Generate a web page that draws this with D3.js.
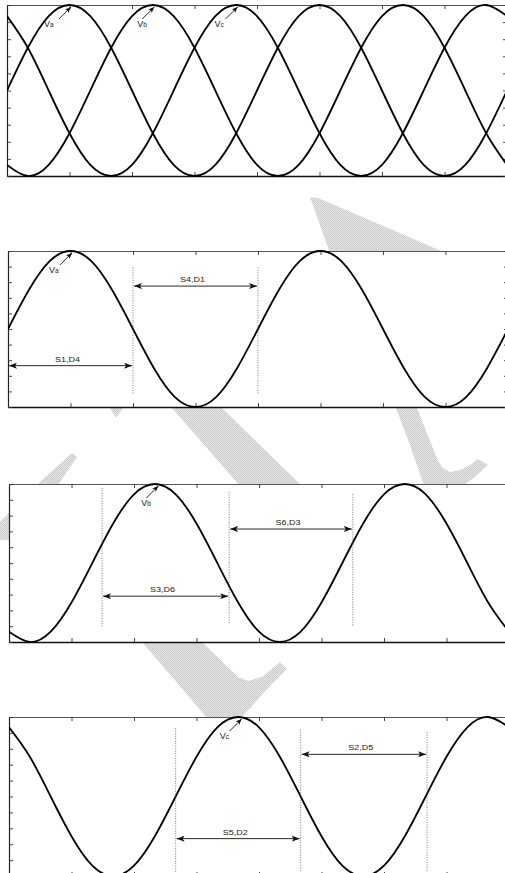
<!DOCTYPE html>
<html>
<head>
<meta charset="utf-8">
<title>Three-phase voltages and switch conduction intervals</title>
<script src="https://d3js.org/d3.v7.min.js"></script>
<style>
  body { margin: 0; background: #fff; }
  svg { display: block; }
</style>
</head>
<body>
<script>
// electrical angle of each sample (degrees)
var angles = [0, 30, 60, 90, 120, 150, 180, 210, 240, 270, 300, 330, 360,
              390, 420, 450, 480, 510, 540, 570, 600, 630, 660, 690, 720];

// per-unit phase voltages
var va = [0, 0.5, 0.87, 1, 0.87, 0.5, 0, -0.5, -0.87, -1, -0.87, -0.5, 0,
          0.5, 0.87, 1, 0.87, 0.5, 0, -0.5, -0.87, -1, -0.87, -0.5, 0];
var vb = [-0.87, -1, -0.87, -0.5, 0, 0.5, 0.87, 1, 0.87, 0.5, 0, -0.5, -0.87,
          -1, -0.87, -0.5, 0, 0.5, 0.87, 1, 0.87, 0.5, 0, -0.5, -0.87];
var vc = [0.87, 0.5, 0, -0.5, -0.87, -1, -0.87, -0.5, 0, 0.5, 0.87, 1, 0.87,
          0.5, 0, -0.5, -0.87, -1, -0.87, -0.5, 0, 0.5, 0.87, 1, 0.87];

// ticks (no labels on the original)
var xTicks = [0, 90, 180, 270, 360, 450, 540, 630, 720];
var yTicks = [-1, -0.8, -0.6, -0.4, -0.2, 0, 0.2, 0.4, 0.6, 0.8, 1];

// switching intervals: [label, start angle, end angle, level]
var spansA = [["S4,D1", 180, 360, 0.55], ["S1,D4", 0, 180, -0.47]];
var spansB = [["S3,D6", 134, 317, -0.42], ["S6,D3", 317, 495, 0.43]];
var spansC = [["S5,D2", 240, 420, -0.53], ["S2,D5", 420, 602, 0.53]];

// dotted guide lines (angle, from level, to level)
var guidesA = [[180, 0.79, -0.83], [360, 0.79, -0.83]];
var guidesB = [[134, 0.95, -0.8], [317, 0.9, -0.77], [495, 0.87, -0.81]];
var guidesC = [[240, 0.86, -0.95], [420, 0.84, -0.95], [602, 0.81, -0.95]];

// peak tags: [phase letter, angle of the peak]
var tagsTop = [["a", 92], ["b", 212], ["c", 332]];

var W = 505, H = 873;

var svg = d3.select("body").append("svg")
    .attr("width", W)
    .attr("height", H);

var defs = svg.append("defs");

// scanned watermark texture
var pat = defs.append("pattern")
    .attr("id", "hatch")
    .attr("width", 2).attr("height", 2)
    .attr("patternUnits", "userSpaceOnUse");
pat.append("rect").attr("width", 2).attr("height", 2).attr("fill", "#e4e4e4");
pat.append("rect").attr("width", 1).attr("height", 1).attr("fill", "#c9c9c9");
pat.append("rect").attr("x", 1).attr("y", 1).attr("width", 1).attr("height", 1).attr("fill", "#d0d0d0");

// arrow heads
defs.append("marker")
    .attr("id", "head")
    .attr("markerUnits", "userSpaceOnUse")
    .attr("viewBox", "-8 -3 9 6")
    .attr("refX", 0).attr("refY", 0)
    .attr("markerWidth", 9).attr("markerHeight", 6)
    .attr("orient", "auto-start-reverse")
    .append("path")
    .attr("d", "M0,0L-8,-3L-6,0L-8,3Z")
    .attr("fill", "#111");

defs.append("marker")
    .attr("id", "tip")
    .attr("markerUnits", "userSpaceOnUse")
    .attr("viewBox", "-6 -2.5 7 5")
    .attr("refX", 0).attr("refY", 0)
    .attr("markerWidth", 7).attr("markerHeight", 5)
    .attr("orient", "auto")
    .append("path")
    .attr("d", "M0,0L-6,-2.5L-4.5,0L-6,2.5Z")
    .attr("fill", "#111");

// watermark shapes (behind the panels)
var blobs = [
    [[310, 197], [318, 198], [446, 253], [330, 253]],
    [[72, 453], [77, 457], [60, 482], [30, 540], [0, 540], [0, 522], [40, 482]],
    [[110, 408], [123, 408], [116, 418]],
    [[172, 408], [222, 408], [302, 486], [240, 486]],
    [[396, 408], [417, 408], [438, 461], [443, 468], [450, 472], [460, 470],
     [470, 465], [478, 459], [488, 465], [476, 476], [463, 486], [424, 486], [410, 445]],
    [[143, 643], [203, 643], [238, 677], [248, 681], [262, 677], [280, 662],
     [287, 669], [270, 686], [240, 719], [208, 719]]
];
svg.append("g").selectAll("path")
    .data(blobs)
    .enter()
    .append("path")
    .attr("d", function(d) { return "M" + d.join("L") + "Z"; })
    .attr("fill", "url(#hatch)");

var panels = [
    {top: 5, bottom: 176, left: 7, right: 507, curves: [va, vb, vc],
     tags: tagsTop, tagDx: [-15, -5, -11], spans: [], guides: []},
    {top: 251, bottom: 407, left: 8, right: 508, curves: [va],
     tags: [["a", 92]], tagDx: [-11], spans: spansA, guides: guidesA},
    {top: 484, bottom: 642, left: 9, right: 509, curves: [vb],
     tags: [["b", 215]], tagDx: [-5], spans: spansB, guides: guidesB},
    {top: 717, bottom: 876, left: 9, right: 509, curves: [vc],
     tags: [["c", 335]], tagDx: [-10], spans: spansC, guides: guidesC}
];

panels.forEach(function(p, k) {
    var x = d3.scaleLinear().domain([0, 720]).range([p.left, p.right]);
    var y = d3.scaleLinear().domain([-1, 1]).range([p.bottom, p.top]);
    var g = svg.append("g");

    g.append("rect")
        .attr("x", p.left).attr("y", p.top)
        .attr("width", p.right - p.left).attr("height", p.bottom - p.top)
        .attr("fill", "#fff");

    defs.append("clipPath").attr("id", "clip" + k)
        .append("rect")
        .attr("x", p.left).attr("y", p.top - 1)
        .attr("width", p.right - p.left).attr("height", p.bottom - p.top + 2);

    // frame + ticks on all four sides, ticks pointing inward
    function frame(axis, tx, ty, col, sw) {
        var a = g.append("g")
            .attr("transform", "translate(" + tx + "," + ty + ")")
            .call(axis.tickSizeInner(-4).tickSizeOuter(0).tickFormat(""));
        a.select(".domain").attr("stroke", col).attr("stroke-width", sw);
        a.selectAll(".tick line").attr("stroke", "#333").attr("stroke-width", 0.9);
    }
    frame(d3.axisBottom(x).tickValues(xTicks), 0, p.bottom, "#111", 1.5);
    frame(d3.axisTop(x).tickValues(xTicks), 0, p.top, "#555", 1);
    frame(d3.axisLeft(y).tickValues(yTicks), p.left, 0, "#222", 1.2);
    frame(d3.axisRight(y).tickValues(yTicks), p.right, 0, "#222", 1.2);

    // voltage waveforms
    var line = d3.line()
        .x(function(d, i) { return x(angles[i]); })
        .y(function(d) { return y(d); })
        .curve(d3.curveNatural);
    g.append("g").attr("clip-path", "url(#clip" + k + ")")
        .selectAll("path")
        .data(p.curves)
        .enter()
        .append("path")
        .attr("d", line)
        .attr("fill", "none")
        .attr("stroke", "#000")
        .attr("stroke-width", 1.8);

    // dotted guides
    g.selectAll(".guide")
        .data(p.guides)
        .enter()
        .append("line")
        .attr("class", "guide")
        .attr("x1", function(d) { return x(d[0]); })
        .attr("x2", function(d) { return x(d[0]); })
        .attr("y1", function(d) { return y(d[1]); })
        .attr("y2", function(d) { return y(d[2]); })
        .attr("stroke", "#555")
        .attr("stroke-width", 0.8)
        .attr("stroke-dasharray", "1,1.5");

    // double-headed interval arrows
    var sp = g.selectAll(".span")
        .data(p.spans)
        .enter()
        .append("g")
        .attr("class", "span");
    sp.append("line")
        .attr("x1", function(d) { return x(d[1]) + 1; })
        .attr("x2", function(d) { return x(d[2]) - 1; })
        .attr("y1", function(d) { return y(d[3]); })
        .attr("y2", function(d) { return y(d[3]); })
        .attr("stroke", "#111")
        .attr("stroke-width", 0.9)
        .attr("marker-start", "url(#head)")
        .attr("marker-end", "url(#head)");
    sp.append("text")
        .attr("x", function(d) { return (x(d[1]) + x(d[2])) / 2 - 3; })
        .attr("y", function(d) { return y(d[3]) - 4; })
        .attr("text-anchor", "middle")
        .attr("textLength", 25)
        .attr("lengthAdjust", "spacingAndGlyphs")
        .attr("font-family", "Liberation Sans, Arial, sans-serif")
        .attr("font-size", 7.5)
        .attr("fill", "#222")
        .text(function(d) { return d[0]; });

    // peak tags "Va", "Vb", "Vc"
    p.tags.forEach(function(t, i) {
        var px = x(t[1]), py = y(1) + 2;
        g.append("line")
            .attr("x1", px - 12).attr("y1", py + 12)
            .attr("x2", px).attr("y2", py)
            .attr("stroke", "#111")
            .attr("stroke-width", 0.9)
            .attr("marker-end", "url(#tip)");
        var tx = g.append("text")
            .attr("x", px - 12 + p.tagDx[i])
            .attr("y", py + 20)
            .attr("font-family", "Liberation Sans, Arial, sans-serif")
            .attr("fill", "#222");
        tx.append("tspan").attr("font-size", 9).text("V");
        tx.append("tspan").attr("font-size", 6.5).text(t[0]);
    });
});
</script>
</body>
</html>
